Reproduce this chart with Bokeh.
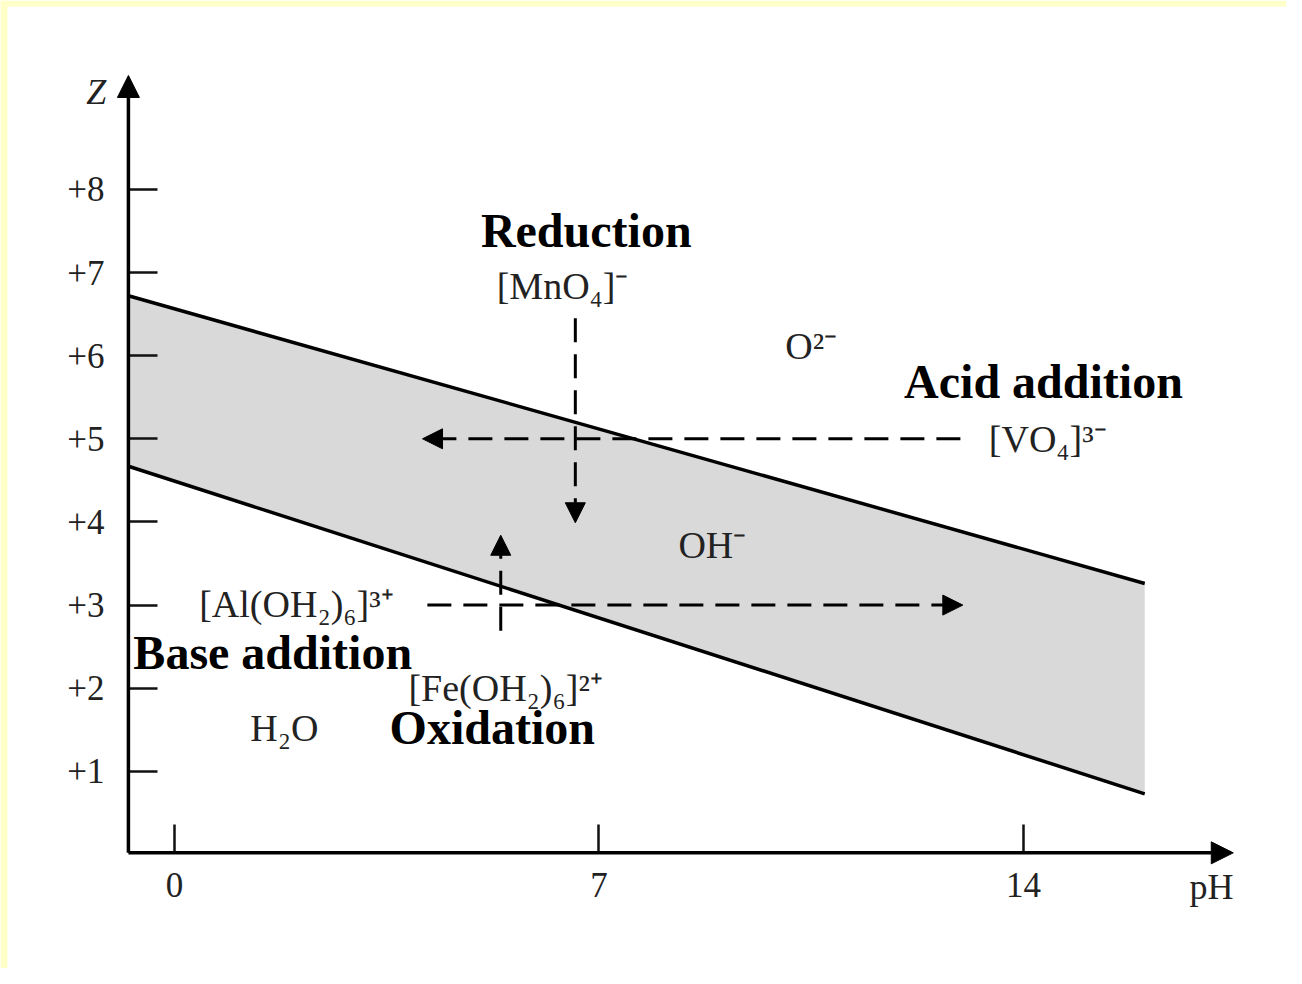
from bokeh.plotting import figure
from bokeh.models import ColumnDataSource, LabelSet, Label, Arrow, NormalHead, FixedTicker, Range1d, BoxAnnotation
from bokeh.embed import file_html
from bokeh.resources import INLINE
from bokeh.core.properties import value

# ---------------- data ----------------
ph_ticks = [0, 7, 14]
ph_tick_labels = ["0", "7", "14"]
z_ticks = [1, 2, 3, 4, 5, 6, 7, 8]
z_tick_labels = ["+1", "+2", "+3", "+4", "+5", "+6", "+7", "+8"]

band_ph = [-0.76, 16.0]
band_upper_z = [6.72, 3.26]
band_lower_z = [4.67, 0.73]

species = ["[MnO₄]⁻", "O²⁻", "[VO₄]³⁻", "OH⁻", "[Al(OH₂)₆]³⁺", "[Fe(OH₂)₆]²⁺", "H₂O"]
species_ph = [6.40, 10.50, 14.40, 8.87, 2.01, 5.46, 1.81]
species_z = [6.84, 6.12, 5.00, 3.72, 3.01, 2.00, 1.52]

processes = ["Reduction", "Acid addition", "Base addition", "Oxidation"]
process_ph = [6.79, 14.33, 1.62, 5.24]
process_z = [7.51, 5.69, 2.43, 1.53]

arrow_ph_start = [6.61, 12.96, 4.17, 5.38]
arrow_z_start = [6.45, 5.00, 3.00, 2.69]
arrow_ph_end = [6.61, 4.09, 13.00, 5.38]
arrow_z_end = [3.99, 5.00, 3.00, 3.84]

axis_ph = -0.76
axis_z = 0.02
ph_axis_end = 17.46
z_axis_end = 9.37

# ---------------- layout ----------------
PX_PH = 60.64   # pixels per pH unit
PX_Z = 83.14    # pixels per Z unit
W, H = 1286, 968
X_ORIGIN_PX, Y_ORIGIN_PX = 174, 854   # canvas pixel of pH 0 / Z 0
x0 = -X_ORIGIN_PX / PX_PH
x1 = x0 + W / PX_PH
y0 = (Y_ORIGIN_PX - H) / PX_Z
y1 = y0 + H / PX_Z

p = figure(width=W, height=H, output_backend="svg", toolbar_location=None,
           x_range=Range1d(x0, x1), y_range=Range1d(y0, y1),
           min_border=0, min_border_left=0, min_border_right=0,
           min_border_top=0, min_border_bottom=0,
           background_fill_color="white", border_fill_color="white")
p.outline_line_color = None
p.grid.visible = False

# pale yellow page edge (top and left)
p.add_layout(BoxAnnotation(left=x0, right=x0 + 7 / PX_PH, fill_color="#FFFFC8",
                           fill_alpha=1, line_color=None))
p.add_layout(BoxAnnotation(bottom=y1 - 6 / PX_Z, top=y1, fill_color="#FFFFC8",
                           fill_alpha=1, line_color=None))

FONT = "Liberation Serif"
for ax in (p.xaxis[0], p.yaxis[0]):
    ax.axis_line_color = None
    ax.major_tick_out = 0
    ax.major_tick_line_width = 2.5
    ax.major_tick_line_color = "#111111"
    ax.minor_tick_line_color = None
    ax.major_label_text_font = FONT
    ax.major_label_text_font_size = "35px"
    ax.major_label_text_color = "#222222"

p.xaxis.fixed_location = axis_z
p.yaxis.fixed_location = axis_ph
p.xaxis.ticker = FixedTicker(ticks=ph_ticks)
p.xaxis.major_label_overrides = {t: l for t, l in zip(ph_ticks, ph_tick_labels)}
p.xaxis.major_tick_in = 28
p.xaxis.major_label_standoff = 20
p.yaxis.ticker = FixedTicker(ticks=z_ticks)
p.yaxis.major_label_overrides = {t: l for t, l in zip(z_ticks, z_tick_labels)}
p.yaxis.major_tick_in = 29
p.yaxis.major_label_standoff = 24

# band
p.varea(x=band_ph, y1=band_lower_z, y2=band_upper_z, fill_color="#D9D9D9")
p.line(band_ph, band_upper_z, line_color="black", line_width=3.5)
p.line(band_ph, band_lower_z, line_color="black", line_width=3.5)

# axes with arrows
p.add_layout(Arrow(end=NormalHead(size=22, fill_color="black", line_color="black"),
                   x_start=axis_ph, y_start=axis_z, x_end=ph_axis_end, y_end=axis_z,
                   line_width=3.5, line_color="black"))
p.add_layout(Arrow(end=NormalHead(size=22, fill_color="black", line_color="black"),
                   x_start=axis_ph, y_start=axis_z, x_end=axis_ph, y_end=z_axis_end,
                   line_width=3.5, line_color="black"))

# dashed process arrows
for xs, ys, xe, ye in zip(arrow_ph_start, arrow_z_start, arrow_ph_end, arrow_z_end):
    p.add_layout(Arrow(end=NormalHead(size=20, fill_color="black", line_color="black"),
                       x_start=xs, y_start=ys, x_end=xe, y_end=ye,
                       line_width=3, line_color="black", line_dash="24 12"))

# labels
src_s = ColumnDataSource(dict(x=species_ph, y=species_z, t=species))
p.add_layout(LabelSet(x="x", y="y", text="t", source=src_s,
                      text_font=value(FONT), text_font_size=value("38px"),
                      text_color="#222222", text_align="center", text_baseline="middle"))
src_p = ColumnDataSource(dict(x=process_ph, y=process_z, t=processes))
p.add_layout(LabelSet(x="x", y="y", text="t", source=src_p,
                      text_font=value(FONT), text_font_size=value("48px"),
                      text_font_style="bold",
                      text_color="black", text_align="center", text_baseline="middle"))

p.add_layout(Label(x=-1.29, y=9.17, text="Z", text_font=FONT, text_font_style="italic",
                   text_font_size="36px", text_color="#222222",
                   text_align="center", text_baseline="middle"))
p.add_layout(Label(x=17.10, y=-0.385, text="pH", text_font=FONT,
                   text_font_size="36px", text_color="#222222",
                   text_align="center", text_baseline="middle"))

open("out.html", "w").write(file_html(p, INLINE))
